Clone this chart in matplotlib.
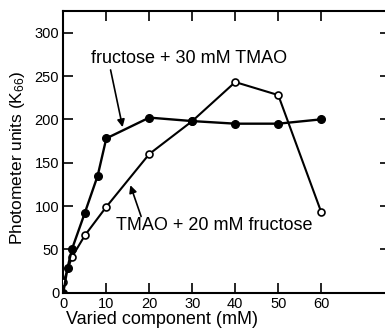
import matplotlib
matplotlib.use("Agg")
import matplotlib.pyplot as plt

plt.rcParams['font.family'] = ['Liberation Sans', 'DejaVu Sans']
plt.rcParams['mathtext.default'] = 'regular'

# Data
fru_x = [0, 1, 2, 5, 8, 10, 20, 30, 40, 50, 60]
fru_y = [0, 29, 50, 92, 135, 178, 202, 198, 195, 195, 200]
tmao_x = [0, 2, 5, 10, 20, 30, 40, 50, 60]
tmao_y = [12, 41, 66, 99, 160, 198, 243, 228, 93]

xticks = [0, 10, 20, 30, 40, 50, 60]
yticks = [0, 50, 100, 150, 200, 250, 300]

fig = plt.figure(figsize=(3.85, 3.29), dpi=100)
ax = fig.add_axes([0.1644, 0.1103, 0.8486, 0.8563])

ax.plot(tmao_x, tmao_y, color='black', lw=1.5, marker='o', ms=5,
        mfc='white', mec='black', mew=1.2, zorder=3)
ax.plot(fru_x, fru_y, color='black', lw=1.7, marker='o', ms=5.5,
        mfc='black', mec='black', zorder=4)

ax.set_xlim(0, 76)
ax.set_ylim(0, 325)
ax.set_xticks(xticks)
ax.set_yticks(yticks)
ax.tick_params(direction='in', length=7, width=1.2, labelsize=10.5,
               top=True, right=True, pad=3)
for s in ax.spines.values():
    s.set_linewidth(1.5)

arrow = dict(arrowstyle='-|>', color='black', lw=1.2,
             mutation_scale=11, shrinkA=0, shrinkB=0)

ax.text(6.5, 270, 'fructose + 30 mM TMAO', fontsize=13, ha='left', va='center')
ax.annotate('', xy=(13.8, 191), xytext=(11.0, 257), arrowprops=arrow)
ax.text(12.3, 78, 'TMAO + 20 mM fructose', fontsize=13, ha='left', va='center')
ax.annotate('', xy=(15.6, 124), xytext=(18.1, 88), arrowprops=arrow)

fig.text(18/385, 1 - 158/329, 'Photometer units (K$_{66}$)', rotation=90,
         ha='center', va='center', fontsize=12.5)
fig.text(162/385, 1 - 320/329, 'Varied component (mM)', ha='center',
         va='center', fontsize=13)

fig.savefig('out.png', dpi=100)
